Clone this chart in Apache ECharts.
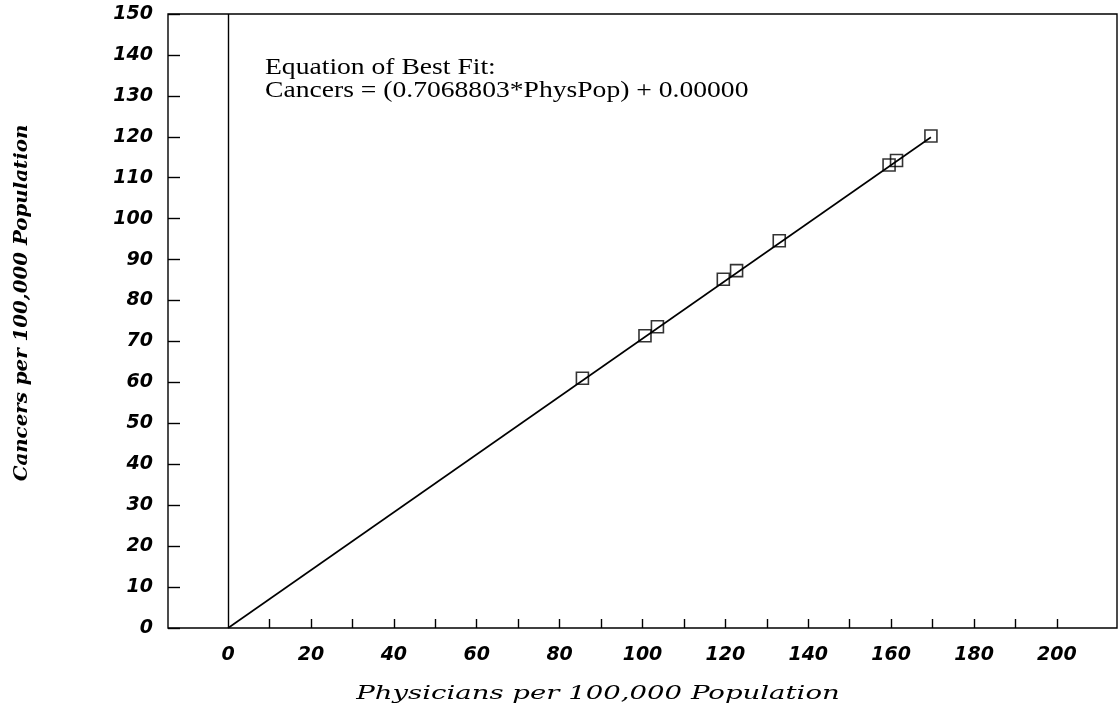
<!DOCTYPE html>
<html>
<head>
<meta charset="utf-8">
<script src="https://cdn.jsdelivr.net/npm/echarts@6/dist/echarts.min.js"></script>
<style>
html, body { margin: 0; padding: 0; background: #fff; }
#chart { width: 1120px; height: 708px; }
</style>
</head>
<body>
<div id="chart"></div>
<script>
var physPop = [85.5, 100.6, 103.6, 119.5, 122.7, 133.0, 159.5, 161.3, 169.6];
var cancers = [61.0, 71.4, 73.6, 85.2, 87.3, 94.6, 113.1, 114.2, 120.2];
// best fit line: Cancers = slope*PhysPop + intercept
var slope = 0.7068803;
var intercept = 0.0;
var fitX = [0, 169.6];
var xLabels = [0, 20, 40, 60, 80, 100, 120, 140, 160, 180, 200];
var xTicks = [10, 20, 30, 40, 50, 60, 70, 80, 90, 100, 110, 120, 130, 140, 150, 160, 170, 180, 190, 200];

var pts = [];
for (var i = 0; i < physPop.length; i++) {
	pts.push([physPop[i], cancers[i]]);
}
var fit = [];
for (var j = 0; j < fitX.length; j++) {
	fit.push([fitX[j], slope * fitX[j] + intercept]);
}

var tickFont = {
	color: '#000',
	fontFamily: 'DejaVu Sans',
	fontStyle: 'italic',
	fontWeight: 'bold',
	fontSize: 19
};

var chart = echarts.init(document.getElementById('chart'));
var option = {
	animation: false,
	backgroundColor: '#fff',
	grid: {
		left: 168, right: 3, top: 14, bottom: 80,
		outerBoundsMode: 'none',
		containLabel: false,
		show: true, borderColor: '#000', borderWidth: 1.4
	},
	xAxis: {
		type: 'value',
		min: -14.5,
		max: 214.5,
		axisLine: { show: false, onZero: false },
		splitLine: { show: false },
		axisTick: { show: true, inside: true, length: 9, customValues: xTicks,
			lineStyle: { color: '#000', width: 1.4 } },
		axisLabel: Object.assign({ margin: 18, customValues: xLabels }, tickFont)
	},
	yAxis: {
		type: 'value',
		min: 0,
		max: 150,
		interval: 10,
		axisLine: { show: false, onZero: false },
		splitLine: { show: false },
		axisTick: { show: true, inside: true, length: 12,
			lineStyle: { color: '#000', width: 1.4 } },
		axisLabel: Object.assign({ margin: 15 }, tickFont)
	},
	series: [
		{
			name: 'fit',
			type: 'line',
			data: fit,
			symbol: 'none',
			silent: true,
			lineStyle: { color: '#000', width: 1.6 },
			markLine: {
				silent: true,
				symbol: 'none',
				label: { show: false },
				lineStyle: { color: '#000', width: 1.4, type: 'solid' },
				data: [{ xAxis: 0 }]
			}
		},
		{
			name: 'obs',
			type: 'scatter',
			data: pts,
			symbol: 'rect',
			symbolSize: 12,
			itemStyle: { color: 'rgba(0,0,0,0)', borderColor: '#000', borderWidth: 1.6 }
		}
	],
	graphic: [
		{
			type: 'text',
			x: 265,
			y: 56,
			scaleX: 1.2,
			style: {
				text: 'Equation of Best Fit:\nCancers = (0.7068803*PhysPop) + 0.00000',
				fill: '#000',
				font: '23px "Liberation Serif"',
				lineHeight: 23
			}
		},
		{
			type: 'text',
			x: 598,
			y: 694,
			scaleX: 1.45,
			style: {
				text: 'Physicians per 100,000 Population',
				fill: '#000',
				font: 'italic 19px "DejaVu Serif"',
				align: 'center',
				verticalAlign: 'middle'
			}
		},
		{
			type: 'text',
			x: 22,
			y: 303,
			rotation: Math.PI / 2,
			scaleX: 1.1,
			style: {
				text: 'Cancers per 100,000 Population',
				fill: '#000',
				font: 'italic bold 18px "DejaVu Serif"',
				align: 'center',
				verticalAlign: 'middle'
			}
		}
	]
};
chart.setOption(option);
</script>
</body>
</html>
